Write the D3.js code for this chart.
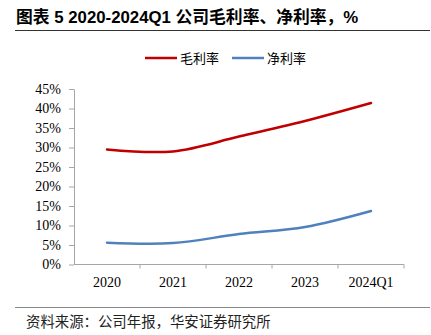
<!DOCTYPE html>
<html>
<head>
<meta charset="utf-8">
<script src="https://cdn.jsdelivr.net/npm/d3@7"></script>
<style>
  html, body { margin: 0; padding: 0; background: #fff; }
  svg { display: block; }
</style>
</head>
<body>
<div id="chart"></div>
<script>
// Dados do gráfico
const categories = ['2020', '2021', '2022', '2023', '2024Q1'];
const grossMargin = [29.5, 29.0, 32.8, 36.8, 41.4]; // 毛利率 (%)
const netMargin = [5.6, 5.5, 7.8, 9.6, 13.7];       // 净利率 (%)
const yTicks = [0, 5, 10, 15, 20, 25, 30, 35, 40, 45];
const seriesNames = ['毛利率', '净利率'];
const seriesColors = ['#c00000', '#4f81bd'];

const width = 431, height = 335;
const serif = '"Liberation Serif", "Times New Roman", serif';
const cjk = '"Noto Sans CJK SC", sans-serif';

const svg = d3.select('#chart')
  .append('svg')
  .attr('width', width)
  .attr('height', height);

// Titulo
svg.append('text')
  .attr('x', 16)
  .attr('y', 23)
  .attr('font-family', '"Liberation Sans", Arial, ' + cjk)
  .attr('font-weight', 'bold')
  .attr('font-size', 16.8)
  .attr('fill', '#000')
  .text('图表 5 2020-2024Q1 公司毛利率、净利率，%');

// Linhas separadoras
svg.append('line')
  .attr('x1', 15).attr('x2', 430)
  .attr('y1', 30.5).attr('y2', 30.5)
  .attr('stroke', '#333').attr('stroke-width', 1.2);

svg.append('line')
  .attr('x1', 15).attr('x2', 430)
  .attr('y1', 307.5).attr('y2', 307.5)
  .attr('stroke', '#888').attr('stroke-width', 1.2);

// Fonte
svg.append('text')
  .attr('x', 26)
  .attr('y', 327)
  .attr('font-family', cjk)
  .attr('font-size', 14.4)
  .attr('fill', '#222')
  .text('资料来源：公司年报，华安证券研究所');

// Escalas
const x = d3.scaleBand()
  .domain(categories)
  .range([74, 404]);

const y = d3.scaleLinear()
  .domain([0, 45])
  .range([264.5, 89]);

const axisColor = '#a6a6a6';

// Eixo Y
const yAxis = svg.append('g')
  .attr('transform', 'translate(74,0)')
  .call(d3.axisLeft(y).tickValues(yTicks).tickSize(5).tickSizeOuter(0).tickFormat(d => d + '%'));
yAxis.select('.domain').attr('stroke', axisColor);
yAxis.selectAll('.tick line').attr('stroke', axisColor);
yAxis.selectAll('.tick text')
  .attr('x', -13)
  .attr('font-family', serif)
  .attr('font-size', 14)
  .attr('fill', '#000');

// Eixo X (ticks nas divisões das categorias)
const xAxisG = svg.append('g')
  .attr('transform', `translate(0,${y(0)})`);
xAxisG.append('line')
  .attr('x1', 74).attr('x2', 404)
  .attr('stroke', axisColor);
xAxisG.selectAll('.xtick')
  .data(categories)
  .enter()
  .append('line')
  .attr('class', 'xtick')
  .attr('x1', d => x(d) + x.bandwidth())
  .attr('x2', d => x(d) + x.bandwidth())
  .attr('y1', 0).attr('y2', 4)
  .attr('stroke', axisColor);
xAxisG.selectAll('.xlabel')
  .data(categories)
  .enter()
  .append('text')
  .attr('class', 'xlabel')
  .attr('x', d => x(d) + x.bandwidth() / 2)
  .attr('y', 22)
  .attr('text-anchor', 'middle')
  .attr('font-family', serif)
  .attr('font-size', 14)
  .attr('fill', '#000')
  .text(d => d);

// Linhas suavizadas
const line = d3.line()
  .x((d, i) => x(categories[i]) + x.bandwidth() / 2)
  .y(d => y(d))
  .curve(d3.curveCatmullRom.alpha(0.5));

[grossMargin, netMargin].forEach((values, i) => {
  svg.append('path')
    .datum(values)
    .attr('d', line)
    .attr('fill', 'none')
    .attr('stroke', seriesColors[i])
    .attr('stroke-width', 2.5)
    .attr('stroke-linecap', 'round');
});

// Legenda
const legendX = [145, 232];
seriesNames.forEach((name, i) => {
  const g = svg.append('g').attr('transform', `translate(${legendX[i]},58)`);
  g.append('line')
    .attr('x1', 0).attr('x2', 32)
    .attr('stroke', seriesColors[i])
    .attr('stroke-width', 2.5);
  g.append('text')
    .attr('x', 35)
    .attr('y', 5)
    .attr('font-family', cjk)
    .attr('font-size', 13)
    .attr('fill', '#000')
    .text(name);
});
</script>
</body>
</html>
